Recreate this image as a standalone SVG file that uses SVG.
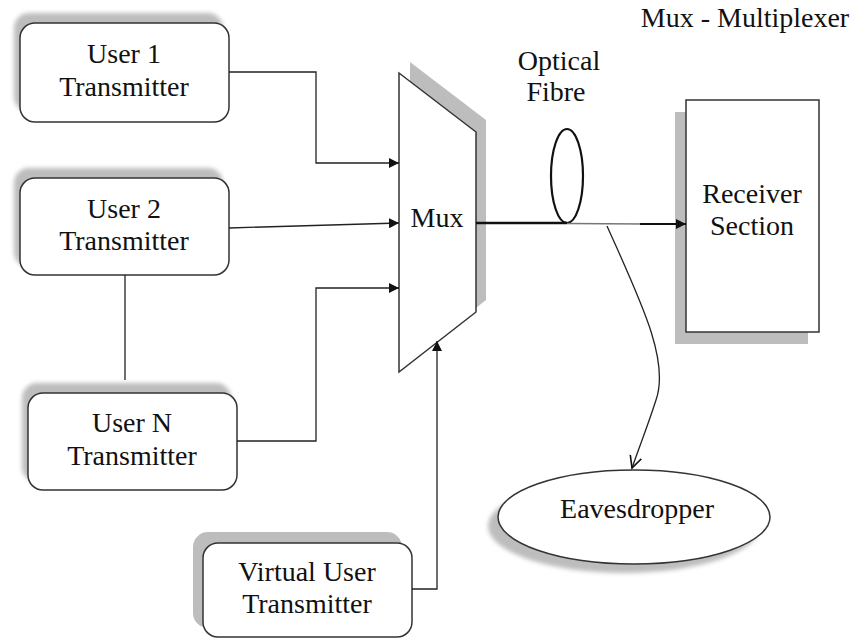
<svg xmlns="http://www.w3.org/2000/svg" width="853" height="639" viewBox="0 0 853 639">
  <style>
    .lbl { font-family: "Liberation Serif", "Times New Roman", serif; font-size: 28px; fill: #111; text-anchor: middle; }
    .box { fill: #fff; stroke: #333; stroke-width: 1.5; }
    .shadow { fill: #bdbdbd; }
    .wire { fill: none; stroke: #222; stroke-width: 1.3; }
  </style>
  <defs>
    <marker id="arrow" viewBox="0 0 10 10" refX="10" refY="5" markerWidth="10" markerHeight="10" markerUnits="userSpaceOnUse" orient="auto">
      <path d="M0,0 L10,5 L0,10 Z" fill="#111"/>
    </marker>
    <marker id="open" viewBox="0 0 14 14" refX="12" refY="7" markerWidth="14" markerHeight="14" markerUnits="userSpaceOnUse" orient="auto">
      <path d="M0,1 L12,7 L0,13" fill="none" stroke="#111" stroke-width="1.6"/>
    </marker>
    <filter id="soft" x="-10%" y="-10%" width="120%" height="120%">
      <feGaussianBlur stdDeviation="2"/>
    </filter>
  </defs>

  <rect width="853" height="639" fill="#fff"/>

  <text class="lbl" x="745" y="27">Mux - Multiplexer</text>

  <!-- transmitters -->
  <g id="user1">
    <rect class="shadow" x="14" y="13" width="209" height="99" rx="15" filter="url(#soft)"/>
    <rect class="box" x="20" y="23" width="209" height="99" rx="15"/>
    <text class="lbl" x="124" y="63">User 1</text>
    <text class="lbl" x="124" y="96">Transmitter</text>
  </g>
  <g id="user2">
    <rect class="shadow" x="14" y="168" width="209" height="99" rx="15" filter="url(#soft)"/>
    <rect class="box" x="20" y="178" width="209" height="97" rx="15"/>
    <text class="lbl" x="124" y="218">User 2</text>
    <text class="lbl" x="124" y="250">Transmitter</text>
  </g>
  <g id="userN">
    <rect class="shadow" x="22" y="383" width="209" height="99" rx="15" filter="url(#soft)"/>
    <rect class="box" x="28" y="393" width="209" height="97" rx="15"/>
    <text class="lbl" x="132" y="432">User N</text>
    <text class="lbl" x="132" y="465">Transmitter</text>
  </g>
  <g id="virtual">
    <rect class="shadow" x="193" y="532" width="209" height="96" rx="15"/>
    <rect class="box" x="203" y="543" width="209" height="94" rx="15"/>
    <text class="lbl" x="307" y="581">Virtual User</text>
    <text class="lbl" x="307" y="613">Transmitter</text>
  </g>

  <!-- multiplexer -->
  <g id="mux">
    <polygon class="shadow" points="410,62 486,120 486,300 410,360"/>
    <polygon class="box" points="399,73 476,132 476,312 399,372"/>
    <text class="lbl" x="437" y="227">Mux</text>
  </g>

  <!-- receiver -->
  <g id="receiver">
    <rect class="shadow" x="675" y="112" width="133" height="232"/>
    <rect class="box" x="686" y="100" width="133" height="232"/>
    <text class="lbl" x="752" y="203">Receiver</text>
    <text class="lbl" x="752" y="235">Section</text>
  </g>

  <!-- eavesdropper -->
  <g id="eavesdropper">
    <ellipse class="shadow" cx="624" cy="526" rx="136" ry="47" filter="url(#soft)"/>
    <ellipse class="box" cx="634" cy="517" rx="136" ry="47"/>
    <text class="lbl" x="637" y="518">Eavesdropper</text>
  </g>

  <!-- fibre -->
  <g id="fibre">
    <text class="lbl" x="559" y="70">Optical</text>
    <text class="lbl" x="556" y="101">Fibre</text>
    <ellipse cx="567" cy="176" rx="16" ry="47" fill="none" stroke="#111" stroke-width="2.2"/>
  </g>

  <g id="connectors">
    <polyline class="wire" points="229,72 316,72 316,163 399,163" marker-end="url(#arrow)"/>
    <line class="wire" x1="229" y1="228" x2="399" y2="223" marker-end="url(#arrow)"/>
    <polyline class="wire" points="237,441 316,441 316,288 399,288" marker-end="url(#arrow)"/>
    <polyline class="wire" points="412,589 437,589 437,341" marker-end="url(#arrow)"/>
    <line class="wire" x1="125" y1="275" x2="125" y2="380"/>
    <!-- fibre link to receiver -->
    <line x1="476" y1="223" x2="567" y2="223" stroke="#111" stroke-width="2.4"/>
    <line x1="567" y1="223.5" x2="645" y2="224" stroke="#777" stroke-width="1.6"/>
    <line x1="640" y1="224" x2="686" y2="224" stroke="#111" stroke-width="2.2" marker-end="url(#arrow)"/>
    <!-- tap towards eavesdropper -->
    <path class="wire" d="M607,226 C640,300 670,360 656,400 C648,425 640,445 632,468" marker-end="url(#open)"/>
  </g>
</svg>
